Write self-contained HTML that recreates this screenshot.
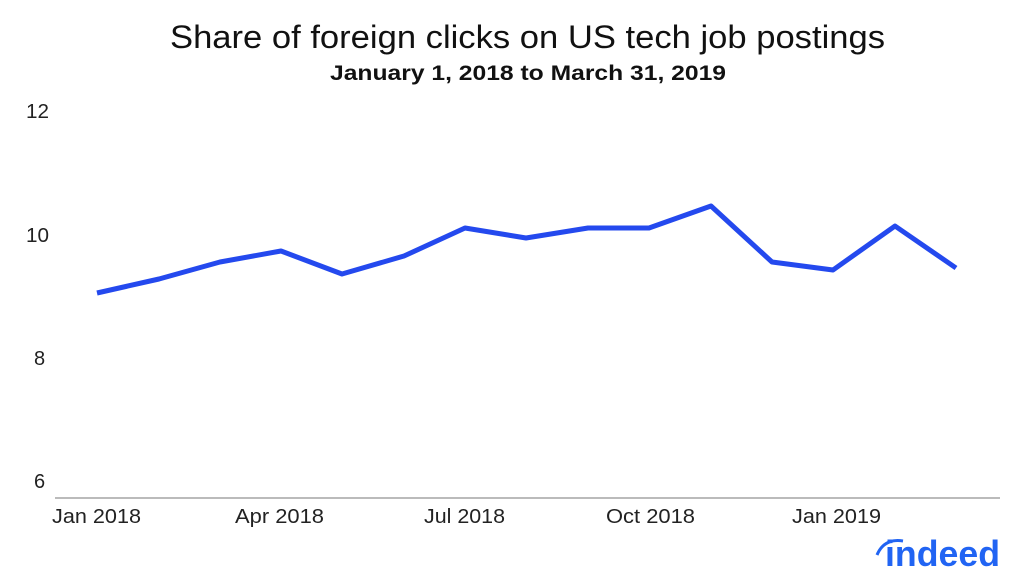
<!DOCTYPE html>
<html><head><meta charset="utf-8"><style>
body{margin:0;background:#fff;}
svg{display:block;font-family:"Liberation Sans",sans-serif;}
</style></head><body>
<svg width="1024" height="582" viewBox="0 0 1024 582">
<rect width="1024" height="582" fill="#fff"/>
<text x="170" y="48" font-size="32" fill="#111" textLength="715" lengthAdjust="spacingAndGlyphs">Share of foreign clicks on US tech job postings</text>
<text x="330" y="80" font-size="21" font-weight="bold" fill="#111" textLength="396" lengthAdjust="spacingAndGlyphs">January 1, 2018 to March 31, 2019</text>
<g font-size="20" fill="#222">
<text x="26" y="118" textLength="23" lengthAdjust="spacingAndGlyphs">12</text>
<text x="26" y="242" textLength="23" lengthAdjust="spacingAndGlyphs">10</text>
<text x="34" y="365">8</text>
<text x="34" y="488">6</text>
<text x="52" y="523" textLength="89" lengthAdjust="spacingAndGlyphs">Jan 2018</text>
<text x="235" y="523" textLength="89" lengthAdjust="spacingAndGlyphs">Apr 2018</text>
<text x="424" y="523" textLength="81" lengthAdjust="spacingAndGlyphs">Jul 2018</text>
<text x="606" y="523" textLength="89" lengthAdjust="spacingAndGlyphs">Oct 2018</text>
<text x="792" y="523" textLength="89" lengthAdjust="spacingAndGlyphs">Jan 2019</text>
</g>
<line x1="55" y1="498" x2="1000" y2="498" stroke="#bbb" stroke-width="2"/>
<polyline fill="none" stroke="#2449ee" stroke-width="5" stroke-linejoin="round" points="97,293 159,279 220,262 281,251 342,274 404,256 465,228 526,238 588,228 649,228 711,206 772,262 833,270 895,226 956,268"/>
<path d="M877,555 Q884,538 903,541" fill="none" stroke="#2164f3" stroke-width="3"/>
<text x="885" y="566" font-size="36" font-weight="bold" fill="#2164f3" textLength="115" lengthAdjust="spacingAndGlyphs">indeed</text>
</svg>
</body></html>
